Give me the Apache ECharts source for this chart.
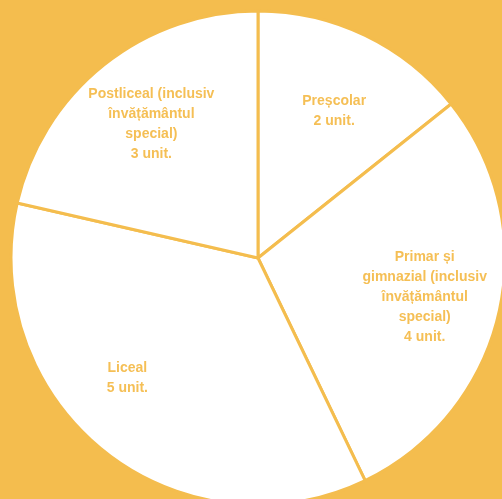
<!DOCTYPE html>
<html><head><meta charset="utf-8">
<script src="https://cdn.jsdelivr.net/npm/echarts@6/dist/echarts.min.js"></script>
<style>html,body{margin:0;padding:0;background:#F4BD4E;}#c{width:502px;height:499px;}</style>
</head><body><div id="c"></div>
<script>
var categories = ["Preșcolar", "Primar și\ngimnazial (inclusiv\nînvățământul\nspecial)", "Liceal", "Postliceal (inclusiv\nînvățământul\nspecial)"];
var values = [2, 4, 5, 3];
var unitSuffix = " unit.";

var orange = '#F4BD4E';
var labelOffsets = [[2, 7], [0, 1], [-24, -14], [0, 0]];
var chart = echarts.init(document.getElementById('c'), null, {renderer: 'canvas'});
var data = categories.map(function (c, i) { return {name: c, value: values[i]}; });
var labelData = categories.map(function (c, i) {
  return {name: c, value: values[i], label: {offset: labelOffsets[i]}};
});
chart.setOption({
  backgroundColor: orange,
  animation: false,
  series: [{
    type: 'pie',
    center: [258, 258],
    radius: [0, 247],
    startAngle: 90,
    clockwise: true,
    silent: true,
    data: data,
    itemStyle: {color: '#ffffff', borderColor: orange, borderWidth: 3},
    label: {show: false},
    labelLine: {show: false}
  }, {
    type: 'pie',
    center: [258, 258],
    radius: [0, 336],
    startAngle: 90,
    clockwise: true,
    silent: true,
    data: labelData,
    itemStyle: {color: 'rgba(0,0,0,0)', borderWidth: 0},
    label: {
      show: true,
      position: 'inside',
      formatter: function (p) { return p.name + '\n' + p.value + unitSuffix; },
      color: '#F5BF55',
      fontFamily: 'Liberation Sans',
      fontWeight: 'bold',
      fontSize: 14,
      lineHeight: 20,
      align: 'center'
    },
    labelLine: {show: false}
  }]
});
</script></body></html>
